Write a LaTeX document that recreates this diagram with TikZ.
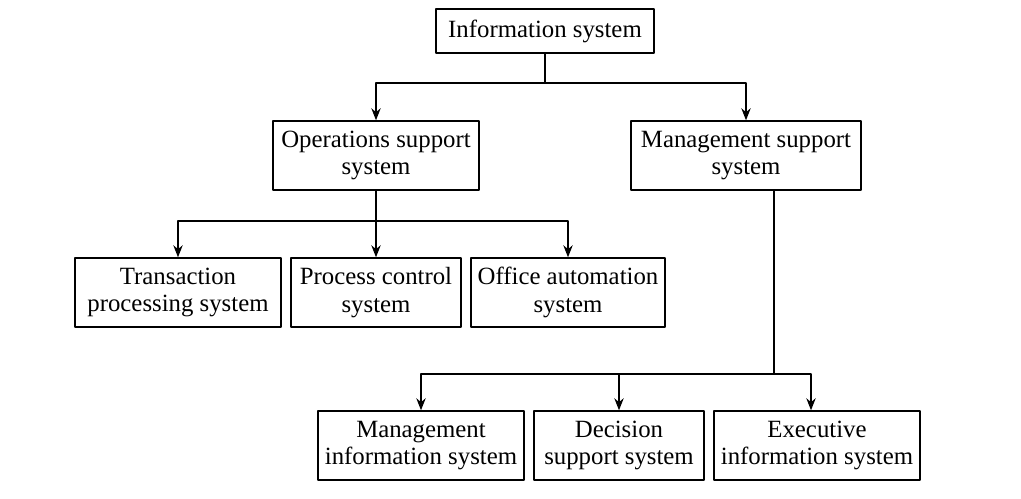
\documentclass[tikz,border=0pt]{standalone}
\usepackage{fontspec}
\setmainfont{Liberation Serif}
\usetikzlibrary{arrows.meta}
\begin{document}
\begin{tikzpicture}[x=0.75pt,y=-0.75pt,line join=round,line width=1.3pt,>={Stealth[length=9pt,width=7pt]},
	box/.style={draw,align=center,inner sep=0pt,minimum height=51.5pt,font=\fontsize{18.6}{20.7}\selectfont}]
\useasboundingbox (0,0) rectangle (1021,499);
% levels
\node[box,minimum width=163pt,minimum height=33pt] (info) at (545,31.3) {Information system};
\node[box,minimum width=154pt] (ops) at (376,155.5) {Operations support\\system};
\node[box,minimum width=173pt] (mss) at (746,155.5) {Management support\\system};
\node[box,minimum width=154pt] (tps) at (178,292.5) {Transaction\\processing system};
\node[box,minimum width=128pt] (pcs) at (376,292.5) {Process control\\system};
\node[box,minimum width=145pt] (oas) at (568,292.5) {Office automation\\system};
\node[box,minimum width=154pt] (mis) at (421,445.5) {Management\\information system};
\node[box,minimum width=127pt] (dss) at (619,445.5) {Decision\\support system};
\node[box,minimum width=154pt] (eis) at (817,445.5) {Executive\\information system};
% connectors
\coordinate (j1) at (info.south |- 0,83);
\coordinate (j2) at (ops.south |- 0,221);
\coordinate (j3) at (774,374);
\draw (info) -- (j1);
\draw[->] (j1) -| (ops);
\draw[->] (j1) -| (mss);
\draw (ops) -- (j2);
\draw[->] (j2) -| (tps);
\draw[->] (j2) -- (pcs);
\draw[->] (j2) -| (oas);
\draw (j3 |- mss.south) -- (j3);
\draw[->] (j3) -| (mis);
\draw[->] (j3) -| (dss);
\draw[->] (j3) -| ([xshift=-4.5pt]eis.north);
\end{tikzpicture}
\end{document}
